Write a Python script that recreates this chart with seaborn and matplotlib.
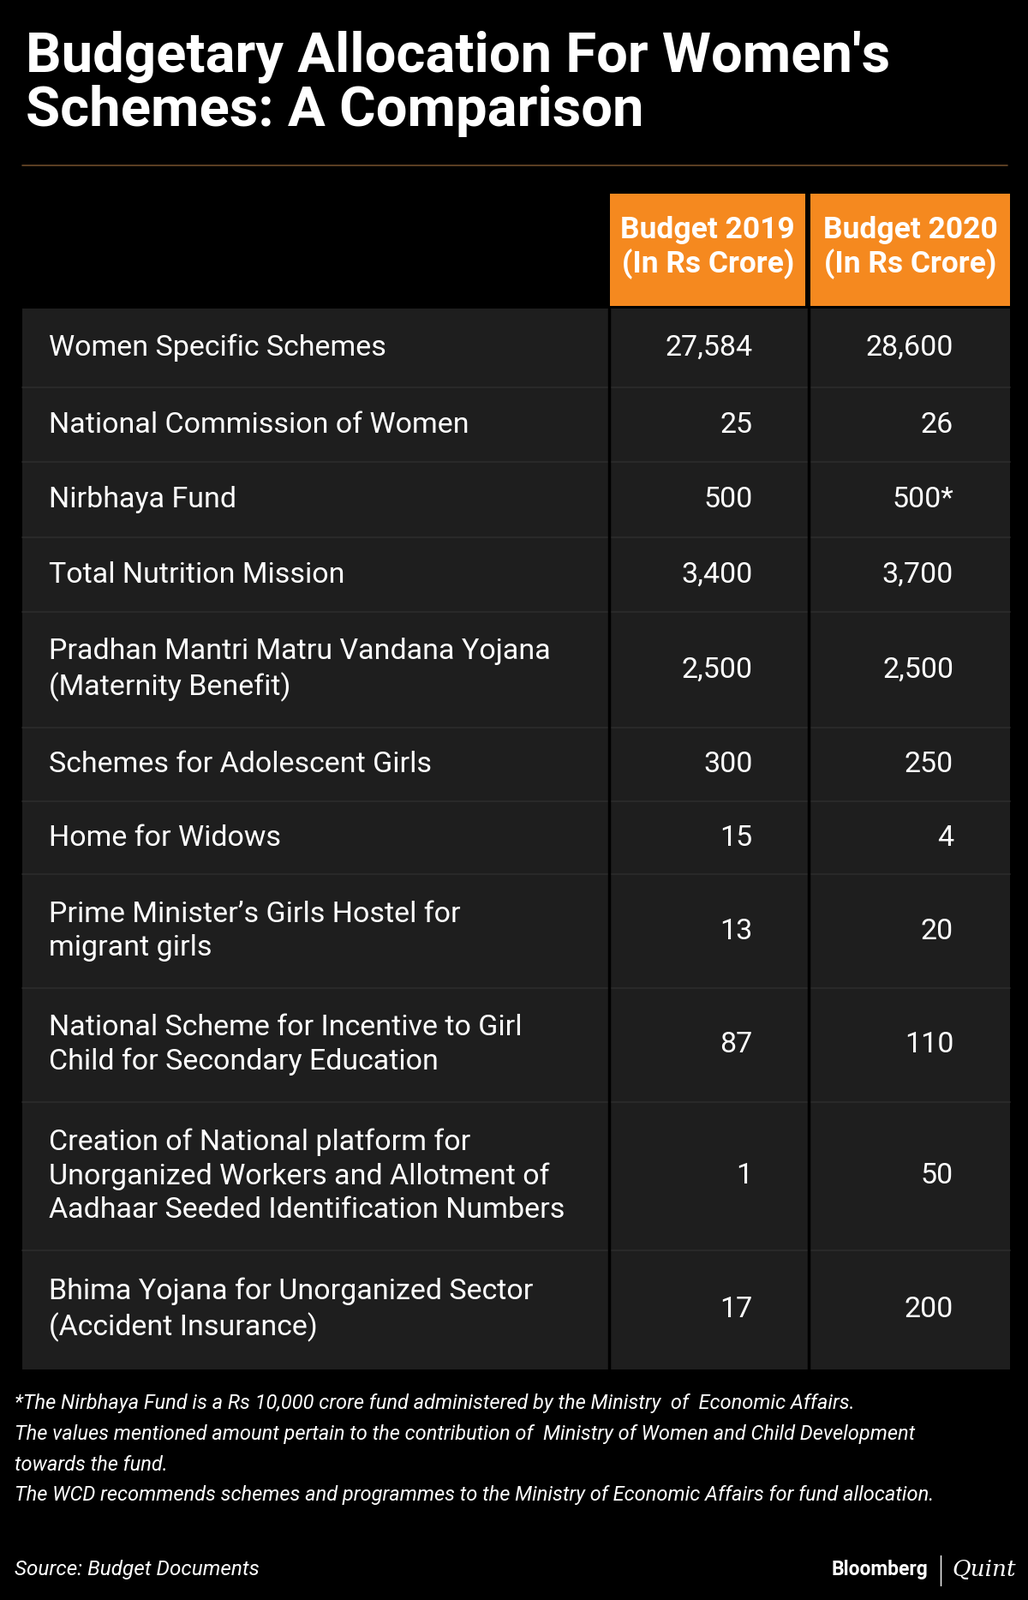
import matplotlib
matplotlib.use("Agg")
import matplotlib.pyplot as plt
import seaborn as sns
from matplotlib.patches import Rectangle

sns.set_theme(style="white")

title = "Budgetary Allocation For Women's\nSchemes: A Comparison"
headers = ["Budget 2019\n(In Rs Crore)", "Budget 2020\n(In Rs Crore)"]
schemes = [
    "Women Specific Schemes",
    "National Commission of Women",
    "Nirbhaya Fund",
    "Total Nutrition Mission",
    "Pradhan Mantri Matru Vandana Yojana\n(Maternity Benefit)",
    "Schemes for Adolescent Girls",
    "Home for Widows",
    "Prime Minister\u2019s Girls Hostel for\nmigrant girls",
    "National Scheme for Incentive to Girl\nChild for Secondary Education",
    "Creation of National platform for\nUnorganized Workers and Allotment of\nAadhaar Seeded Identification Numbers",
    "Bhima Yojana for Unorganized Sector\n(Accident Insurance)",
]
budget_2019 = ["27,584", "25", "500", "3,400", "2,500", "300", "15", "13", "87", "1", "17"]
budget_2020 = ["28,600", "26", "500*", "3,700", "2,500", "250", "4", "20", "110", "50", "200"]
footnote = ("*The Nirbhaya Fund is a Rs 10,000 crore fund administered by the Ministry  of  Economic Affairs.\n"
            "The values mentioned amount pertain to the contribution of  Ministry of Women and Child Development\n"
            "towards the fund.\n"
            "The WCD recommends schemes and programmes to the Ministry of Economic Affairs for fund allocation.")
source = "Source: Budget Documents"

row_edges = [302, 380, 453, 527, 600, 713, 785, 857, 968, 1080, 1225, 1342]

fig = plt.figure(figsize=(12, 18.67), dpi=100, facecolor="black")
ax = fig.add_axes([0, 0, 1, 1])
ax.set_facecolor("black")
ax.set_xlim(0, 1008)
ax.set_ylim(1568, 0)
ax.axis("off")

cond = ["Liberation Sans Narrow", "Roboto"]
ax.text(25, 82, title, color="white", fontsize=47, fontweight="bold", family=cond,
        va="center", ha="left", linespacing=1.05)
ax.plot([22, 988], [162, 162], color="#6b4a2a", lw=1.2)

orange = "#f5891f"
for x0, x1, h in [(598, 790, headers[0]), (795, 990, headers[1])]:
    ax.add_patch(Rectangle((x0, 190), x1 - x0, 110, color=orange, lw=0))
    ax.text((x0 + x1) / 2, 243, h, color="white", fontsize=25.5, fontweight="bold",
            family=cond, ha="center", va="center", linespacing=1.2)

ax.add_patch(Rectangle((22, 302), 968, 1040, color="#1e1e1e", lw=0))
for y in row_edges[1:-1]:
    ax.plot([22, 990], [y, y], color="#2c2c2c", lw=1.2)
for x in [597, 793]:
    ax.plot([x, x], [302, 1342], color="black", lw=2.5)

for i, (s, a, b) in enumerate(zip(schemes, budget_2019, budget_2020)):
    yc = (row_edges[i] + row_edges[i + 1]) / 2
    ax.text(48, yc, s, color="white", fontsize=24.5, ha="left", va="center",
            family="Roboto", linespacing=1.3)
    ax.text(738, yc, a, color="white", fontsize=24.5, ha="right", va="center", family="Roboto")
    ax.text(935, yc, b, color="white", fontsize=24.5, ha="right", va="center", family="Roboto")

ax.text(14, 1366, footnote, color="white", fontsize=17, style="italic", family="Roboto",
        ha="left", va="top", linespacing=1.7)
ax.text(14, 1538, source, color="white", fontsize=17.5, style="italic", family="Roboto",
        ha="left", va="center")
ax.text(910, 1538, "Bloomberg", color="white", fontsize=16.5, fontweight="bold", family="Roboto",
        ha="right", va="center")
ax.plot([922, 922], [1524, 1554], color="white", lw=1)
ax.text(934, 1538, "Quint", color="white", fontsize=19, style="italic", family="DejaVu Serif",
        ha="left", va="center")

fig.savefig("out.png", dpi=100, facecolor="black")
